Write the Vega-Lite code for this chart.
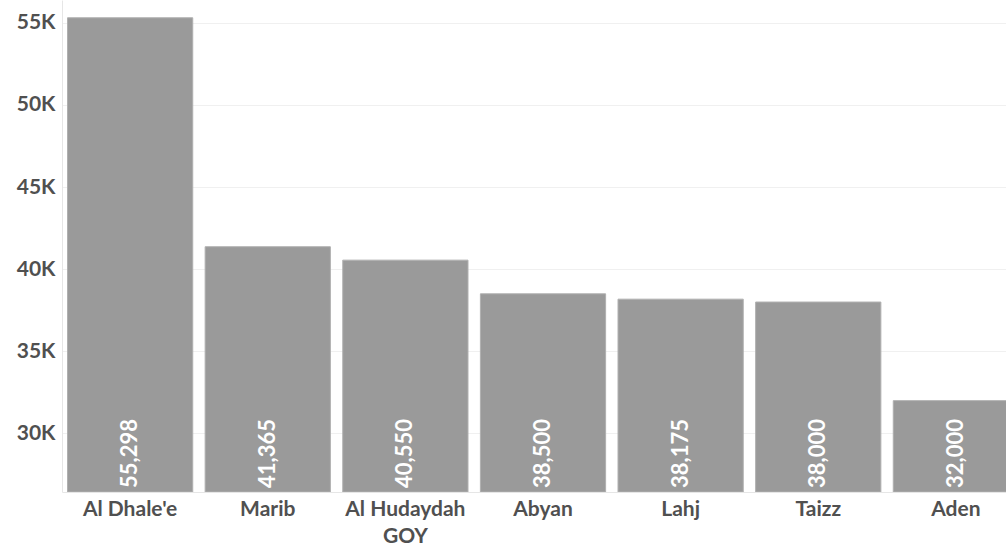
{
  "$schema": "https://vega.github.io/schema/vega-lite/v6.json",
  "width": 944,
  "height": 492,
  "autosize": {"type": "none"},
  "padding": {"left": 62, "top": 0, "right": 0, "bottom": 53},
  "background": "white",
  "config": {
    "view": {"stroke": null},
    "font": "Lato",
    "axis": {"labelFont": "Lato", "labelFontWeight": "bold", "labelColor": "#505050", "gridColor": "#f0f0f0", "domainColor": "#e6e6e6", "ticks": false}
  },
  "data": {
    "values": [
      {"region": "Al Dhale'e", "value": 55298},
      {"region": "Marib", "value": 41365},
      {"region": "Al Hudaydah GOY", "value": 40550},
      {"region": "Abyan", "value": 38500},
      {"region": "Lahj", "value": 38175},
      {"region": "Taizz", "value": 38000},
      {"region": "Aden", "value": 32000}
    ]
  },
  "encoding": {
    "x": {
      "field": "region", "type": "nominal", "sort": null,
      "scale": {"range": [0, 962], "paddingInner": 0.09, "paddingOuter": 0.04},
      "axis": {"title": null, "labelAngle": 0, "labelFontSize": 21, "labelPadding": 6, "grid": false,
        "labelExpr": "datum.label == 'Al Hudaydah GOY' ? ['Al Hudaydah', 'GOY'] : datum.label", "labelLineHeight": 27}
    }
  },
  "layer": [
    {
      "mark": {"type": "bar", "color": "#9a9a9a", "stroke": "#b0b0b0", "strokeWidth": 1, "clip": true},
      "encoding": {
        "y": {
          "field": "value", "type": "quantitative",
          "scale": {"domain": [26440, 56380], "zero": false, "nice": false},
          "axis": {"title": null, "values": [30000, 35000, 40000, 45000, 50000, 55000],
            "labelExpr": "format(datum.value / 1000, 'd') + 'K'", "labelFontSize": 21, "labelPadding": 7, "grid": true}
        },
        "y2": {"datum": 26440}
      }
    },
    {
      "mark": {"type": "text", "angle": -90, "align": "left", "baseline": "middle", "dx": 4, "color": "white", "fontSize": 22, "fontWeight": "bold", "font": "Lato"},
      "encoding": {
        "y": {"datum": 26440, "type": "quantitative"},
        "text": {"field": "value", "type": "quantitative", "format": ","}
      }
    }
  ]
}
